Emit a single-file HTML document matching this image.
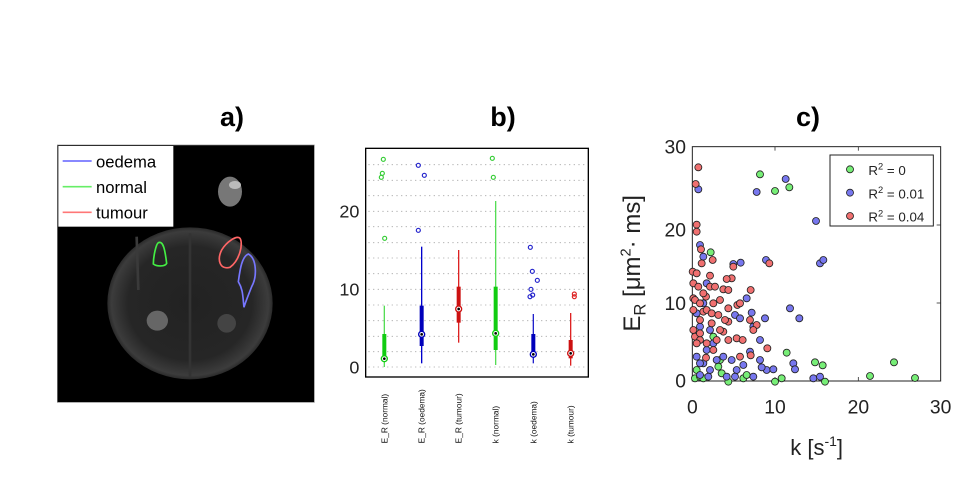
<!DOCTYPE html>
<html><head><meta charset="utf-8"><style>
html,body{margin:0;padding:0;background:#fff;}
svg{display:block;font-family:"Liberation Sans",sans-serif;}
</style></head><body>
<svg width="971" height="485" viewBox="0 0 971 485" xmlns="http://www.w3.org/2000/svg">
<defs>
<radialGradient id="bg" cx="50%" cy="50%" r="50%">
<stop offset="0" stop-color="#222"/><stop offset="0.75" stop-color="#262626"/><stop offset="0.95" stop-color="#3c3c3c"/><stop offset="1" stop-color="#2a2a2a"/>
</radialGradient>
</defs>
<text x="232" y="126" font-size="27" font-weight="bold" text-anchor="middle">a)</text>
<text x="503" y="126" font-size="27" font-weight="bold" text-anchor="middle">b)</text>
<text x="808" y="126" font-size="27" font-weight="bold" text-anchor="middle">c)</text>

<!-- Panel a -->
<g transform="translate(50,90) scale(0.33333)">
<rect x="22" y="165" width="771" height="772" fill="#000" stroke="#888" stroke-width="2"/>
<ellipse cx="420" cy="640" rx="248" ry="228" fill="url(#bg)"/>
<path d="M420,430 L420,860" stroke="#333" stroke-width="8"/>
<path d="M260,440 L265,600" stroke="#3a3a3a" stroke-width="8"/>
<ellipse cx="540" cy="305" rx="36" ry="45" fill="#777"/>
<ellipse cx="555" cy="285" rx="18" ry="12" fill="#bbb"/>
<ellipse cx="322" cy="692" rx="32" ry="30" fill="#666"/>
<ellipse cx="530" cy="700" rx="28" ry="28" fill="#444"/>
<rect x="25" y="168" width="345" height="242" fill="#fff"/>
<line x1="38" y1="213" x2="125" y2="213" stroke="#7777ff" stroke-width="5"/>
<line x1="38" y1="290" x2="125" y2="290" stroke="#66ee66" stroke-width="5"/>
<line x1="38" y1="367" x2="125" y2="367" stroke="#ff7777" stroke-width="5"/>
<text x="138" y="232" font-size="50">oedema</text>
<text x="138" y="309" font-size="50">normal</text>
<text x="138" y="386" font-size="50">tumour</text>
<path d="M325,458 C340,452 345,480 350,520 C345,530 320,530 310,522 C310,500 318,462 325,458Z" fill="none" stroke="#44ee44" stroke-width="5"/>
<path d="M570,445 C580,460 570,510 540,532 C510,540 500,510 515,480 C530,455 560,435 570,445Z" fill="none" stroke="#ff6666" stroke-width="5"/>
<path d="M595,492 C620,505 622,560 605,590 C595,615 585,640 582,652 C578,620 580,600 565,575 C570,540 575,500 595,492Z" fill="none" stroke="#7777ff" stroke-width="5"/>
</g>

<!-- Panel b -->
<g transform="translate(320,130) scale(0.33333)">
<rect x="137" y="55" width="668" height="686" fill="#fff" stroke="#000" stroke-width="4"/>
<g stroke="#aaa" stroke-width="2.5" stroke-dasharray="4,10">
<line x1="145" x2="800" y1="711" y2="711"/><line x1="145" x2="800" y1="665" y2="665"/>
<line x1="145" x2="800" y1="619" y2="619"/><line x1="145" x2="800" y1="572" y2="572"/>
<line x1="145" x2="800" y1="525" y2="525"/><line x1="145" x2="800" y1="478" y2="478"/>
<line x1="145" x2="800" y1="431" y2="431"/><line x1="145" x2="800" y1="384" y2="384"/>
<line x1="145" x2="800" y1="338" y2="338"/><line x1="145" x2="800" y1="290" y2="290"/>
<line x1="145" x2="800" y1="244" y2="244"/><line x1="145" x2="800" y1="197" y2="197"/>
<line x1="145" x2="800" y1="151" y2="151"/><line x1="145" x2="800" y1="104" y2="104"/>
</g>
<g font-size="54" fill="#222" text-anchor="end">
<text x="118" y="263">20</text><text x="118" y="497">10</text><text x="118" y="730">0</text>
</g>
<g stroke-width="4">
<line x1="193" x2="193" y1="527" y2="711" stroke="#55dd55"/>
<line x1="305" x2="305" y1="350" y2="700" stroke="#0000cc"/>
<line x1="416" x2="416" y1="360" y2="638" stroke="#dd2222"/>
<line x1="527" x2="527" y1="213" y2="705" stroke="#55dd55"/>
<line x1="640" x2="640" y1="552" y2="700" stroke="#2222cc"/>
<line x1="752" x2="752" y1="549" y2="707" stroke="#dd2222"/>
</g>
<rect x="187" y="612" width="12" height="74" fill="#11cc11"/>
<rect x="299" y="527" width="12" height="121" fill="#0000bb"/>
<rect x="410" y="470" width="12" height="108" fill="#cc1111"/>
<rect x="521" y="470" width="12" height="190" fill="#11cc11"/>
<rect x="634" y="612" width="12" height="68" fill="#0000bb"/>
<rect x="746" y="630" width="12" height="55" fill="#cc1111"/>
<g stroke-width="4" fill="#fff">
<circle cx="193" cy="686" r="9" stroke="#11cc11"/>
<circle cx="305" cy="613" r="9" stroke="#0000bb"/>
<circle cx="416" cy="537" r="9" stroke="#cc1111"/>
<circle cx="527" cy="610" r="9" stroke="#11cc11"/>
<circle cx="640" cy="673" r="9" stroke="#0000bb"/>
<circle cx="752" cy="670" r="9" stroke="#cc1111"/>
</g>
<g fill="#000"><circle cx="193" cy="686" r="4"/><circle cx="305" cy="613" r="4"/><circle cx="416" cy="537" r="4"/><circle cx="527" cy="610" r="4"/><circle cx="640" cy="673" r="4"/><circle cx="752" cy="670" r="4"/></g>
<g fill="none" stroke-width="3.5">
<g stroke="#33cc33"><circle cx="190" cy="88" r="6"/><circle cx="187" cy="130" r="6"/><circle cx="184" cy="142" r="6"/><circle cx="194" cy="325" r="6"/><circle cx="517" cy="85" r="6"/><circle cx="520" cy="142" r="6"/></g>
<g stroke="#2222cc"><circle cx="295" cy="106" r="6"/><circle cx="313" cy="136" r="6"/><circle cx="295" cy="301" r="6"/><circle cx="631" cy="352" r="6"/><circle cx="637" cy="424" r="6"/><circle cx="652" cy="451" r="6"/><circle cx="633" cy="478" r="6"/><circle cx="630" cy="500" r="6"/><circle cx="638" cy="495" r="6"/></g>
<g stroke="#dd2222"><circle cx="763" cy="492" r="6"/><circle cx="763" cy="500" r="6"/></g>
</g>
<g font-size="25" fill="#111">
<text transform="translate(202,940) rotate(-90)">E_R (normal)</text>
<text transform="translate(314,940) rotate(-90)">E_R (oedema)</text>
<text transform="translate(425,940) rotate(-90)">E_R (tumour)</text>
<text transform="translate(536,940) rotate(-90)">k (normal)</text>
<text transform="translate(649,940) rotate(-90)">k (oedema)</text>
<text transform="translate(761,940) rotate(-90)">k (tumour)</text>
</g>
</g>

<!-- Panel c -->
<g transform="translate(600,130) scale(0.33333)">
<rect x="277" y="50" width="745" height="703" fill="#fff" stroke="#222" stroke-width="3"/>
<g stroke-width="2.5" stroke="#333">
<line x1="1022" x2="1010" y1="285" y2="285"/><line x1="1022" x2="1010" y1="519" y2="519"/>
<line x1="525" x2="525" y1="753" y2="741"/><line x1="775" x2="775" y1="753" y2="741"/>
<line x1="525" x2="525" y1="50" y2="62"/><line x1="775" x2="775" y1="50" y2="62"/>
<line x1="277" x2="289" y1="285" y2="285"/><line x1="277" x2="289" y1="519" y2="519"/>
</g>
<g font-size="58" fill="#222">
<g text-anchor="end"><text x="258" y="70">30</text><text x="258" y="320">20</text><text x="258" y="540">10</text><text x="258" y="773">0</text></g>
<g text-anchor="middle"><text x="277" y="850">0</text><text x="525" y="850">10</text><text x="775" y="850">20</text><text x="1022" y="850">30</text></g>
<text x="650" y="975" text-anchor="middle" font-size="66">k [s<tspan font-size="42" dy="-27">-1</tspan><tspan dy="27">]</tspan></text>
<text transform="translate(120,400) rotate(-90)" text-anchor="middle" font-size="72">E<tspan font-size="50" dy="16">R</tspan><tspan dy="-16"> [μm</tspan><tspan font-size="44" dy="-28">2</tspan><tspan dy="28">· ms]</tspan></text>
</g>
<g stroke="#222" stroke-width="2.5" fill="#77ee77">
<circle cx="285" cy="745" r="10.5"/><circle cx="480" cy="133" r="10.5"/><circle cx="525" cy="183" r="10.5"/><circle cx="568" cy="172" r="10.5"/><circle cx="332" cy="367" r="10.5"/><circle cx="560" cy="668" r="10.5"/><circle cx="645" cy="697" r="10.5"/><circle cx="668" cy="706" r="10.5"/><circle cx="810" cy="738" r="10.5"/><circle cx="882" cy="697" r="10.5"/><circle cx="945" cy="744" r="10.5"/><circle cx="525" cy="755" r="10.5"/><circle cx="545" cy="745" r="10.5"/><circle cx="430" cy="745" r="10.5"/><circle cx="385" cy="755" r="10.5"/><circle cx="365" cy="730" r="10.5"/><circle cx="360" cy="690" r="10.5"/><circle cx="300" cy="740" r="10.5"/><circle cx="675" cy="755" r="10.5"/><circle cx="440" cy="735" r="10.5"/><circle cx="340" cy="620" r="10.5"/><circle cx="290" cy="720" r="10.5"/><circle cx="310" cy="745" r="10.5"/><circle cx="355" cy="710" r="10.5"/>
</g>
<g stroke="#222" stroke-width="2.5" fill="#7777ee">
<circle cx="295" cy="178" r="10.5"/><circle cx="470" cy="186" r="10.5"/><circle cx="557" cy="147" r="10.5"/><circle cx="648" cy="273" r="10.5"/><circle cx="660" cy="400" r="10.5"/><circle cx="670" cy="390" r="10.5"/><circle cx="300" cy="345" r="10.5"/><circle cx="310" cy="380" r="10.5"/><circle cx="320" cy="460" r="10.5"/><circle cx="400" cy="402" r="10.5"/><circle cx="422" cy="398" r="10.5"/><circle cx="498" cy="390" r="10.5"/><circle cx="570" cy="535" r="10.5"/><circle cx="598" cy="565" r="10.5"/><circle cx="440" cy="505" r="10.5"/><circle cx="455" cy="548" r="10.5"/><circle cx="405" cy="555" r="10.5"/><circle cx="420" cy="565" r="10.5"/><circle cx="495" cy="565" r="10.5"/><circle cx="460" cy="590" r="10.5"/><circle cx="480" cy="630" r="10.5"/><circle cx="450" cy="665" r="10.5"/><circle cx="480" cy="690" r="10.5"/><circle cx="500" cy="720" r="10.5"/><circle cx="520" cy="718" r="10.5"/><circle cx="580" cy="700" r="10.5"/><circle cx="585" cy="718" r="10.5"/><circle cx="640" cy="745" r="10.5"/><circle cx="660" cy="740" r="10.5"/><circle cx="290" cy="680" r="10.5"/><circle cx="300" cy="735" r="10.5"/><circle cx="310" cy="700" r="10.5"/><circle cx="330" cy="720" r="10.5"/><circle cx="350" cy="690" r="10.5"/><circle cx="370" cy="680" r="10.5"/><circle cx="395" cy="690" r="10.5"/><circle cx="410" cy="720" r="10.5"/><circle cx="430" cy="705" r="10.5"/><circle cx="460" cy="740" r="10.5"/><circle cx="320" cy="660" r="10.5"/><circle cx="340" cy="640" r="10.5"/><circle cx="300" cy="590" r="10.5"/><circle cx="290" cy="550" r="10.5"/><circle cx="310" cy="520" r="10.5"/><circle cx="330" cy="600" r="10.5"/><circle cx="380" cy="740" r="10.5"/><circle cx="405" cy="740" r="10.5"/><circle cx="485" cy="712" r="10.5"/><circle cx="300" cy="700" r="10.5"/><circle cx="325" cy="740" r="10.5"/>
</g>
<g stroke="#222" stroke-width="2.5" fill="#f07070">
<circle cx="295" cy="112" r="10.5"/><circle cx="287" cy="162" r="10.5"/><circle cx="290" cy="284" r="10.5"/><circle cx="290" cy="305" r="10.5"/><circle cx="303" cy="358" r="10.5"/><circle cx="338" cy="390" r="10.5"/><circle cx="330" cy="437" r="10.5"/><circle cx="278" cy="425" r="10.5"/><circle cx="280" cy="460" r="10.5"/><circle cx="280" cy="505" r="10.5"/><circle cx="280" cy="540" r="10.5"/><circle cx="280" cy="600" r="10.5"/><circle cx="285" cy="620" r="10.5"/><circle cx="300" cy="630" r="10.5"/><circle cx="300" cy="570" r="10.5"/><circle cx="310" cy="545" r="10.5"/><circle cx="318" cy="500" r="10.5"/><circle cx="330" cy="470" r="10.5"/><circle cx="345" cy="470" r="10.5"/><circle cx="370" cy="478" r="10.5"/><circle cx="395" cy="445" r="10.5"/><circle cx="385" cy="480" r="10.5"/><circle cx="360" cy="510" r="10.5"/><circle cx="385" cy="535" r="10.5"/><circle cx="412" cy="525" r="10.5"/><circle cx="420" cy="520" r="10.5"/><circle cx="450" cy="570" r="10.5"/><circle cx="470" cy="585" r="10.5"/><circle cx="452" cy="480" r="10.5"/><circle cx="385" cy="575" r="10.5"/><circle cx="370" cy="605" r="10.5"/><circle cx="335" cy="580" r="10.5"/><circle cx="320" cy="640" r="10.5"/><circle cx="340" cy="660" r="10.5"/><circle cx="350" cy="630" r="10.5"/><circle cx="385" cy="630" r="10.5"/><circle cx="410" cy="625" r="10.5"/><circle cx="428" cy="630" r="10.5"/><circle cx="460" cy="600" r="10.5"/><circle cx="502" cy="655" r="10.5"/><circle cx="420" cy="680" r="10.5"/><circle cx="300" cy="610" r="10.5"/><circle cx="290" cy="640" r="10.5"/><circle cx="318" cy="683" r="10.5"/><circle cx="400" cy="410" r="10.5"/><circle cx="380" cy="447" r="10.5"/><circle cx="310" cy="490" r="10.5"/><circle cx="340" cy="520" r="10.5"/><circle cx="305" cy="400" r="10.5"/><circle cx="290" cy="430" r="10.5"/><circle cx="295" cy="470" r="10.5"/><circle cx="285" cy="510" r="10.5"/><circle cx="300" cy="520" r="10.5"/><circle cx="320" cy="540" r="10.5"/><circle cx="335" cy="550" r="10.5"/><circle cx="355" cy="555" r="10.5"/><circle cx="360" cy="600" r="10.5"/><circle cx="375" cy="570" r="10.5"/><circle cx="508" cy="400" r="10.5"/><circle cx="452" cy="676" r="10.5"/>
</g>
<rect x="690" y="75" width="310" height="213" fill="#fff" stroke="#222" stroke-width="3"/>
<g stroke="#222" stroke-width="2.5">
<circle cx="750" cy="118" r="10.5" fill="#77ee77"/><circle cx="750" cy="188" r="10.5" fill="#7777ee"/><circle cx="750" cy="258" r="10.5" fill="#f07070"/>
</g>
<g font-size="40" fill="#222">
<text x="805" y="135">R<tspan font-size="28" dy="-16">2</tspan><tspan dy="16"> = 0</tspan></text>
<text x="805" y="205">R<tspan font-size="28" dy="-16">2</tspan><tspan dy="16"> = 0.01</tspan></text>
<text x="805" y="275">R<tspan font-size="28" dy="-16">2</tspan><tspan dy="16"> = 0.04</tspan></text>
</g>
</g>
</svg>
</body></html>
